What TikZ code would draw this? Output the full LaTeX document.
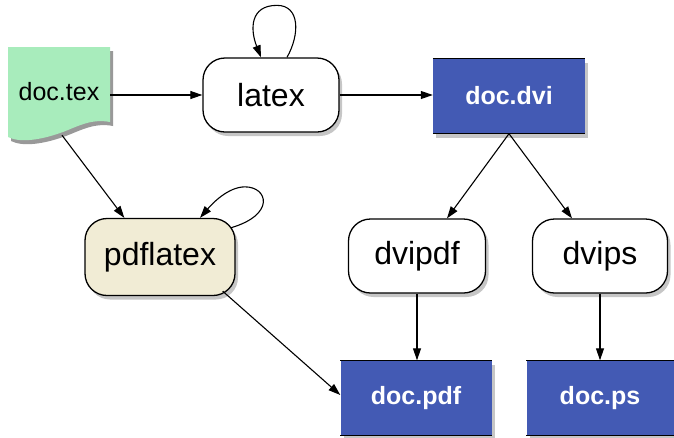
\documentclass[tikz,border=0pt]{standalone}
\usepackage{fontspec}
\setmainfont{Liberation Sans}
\usetikzlibrary{arrows.meta,shadows,calc}
\definecolor{texgreen}{RGB}{168,236,188}
\definecolor{fileblue}{RGB}{67,90,180}
\definecolor{pdfbeige}{RGB}{241,236,213}
\begin{document}
\begin{tikzpicture}[x=1pt,y=-1pt,
  shadowed/.style={drop shadow={opacity=0.45,shadow xshift=3pt,shadow yshift=-4pt}},
  prog/.style={draw=black, line width=1.3pt, rounded corners=22pt, fill=white,
    minimum width=136pt, minimum height=74pt, inner sep=4pt,
    font=\fontsize{32}{38}\selectfont, shadowed},
  file/.style={fill=fileblue, text=white, minimum width=151pt, minimum height=75pt,
    font=\fontsize{25}{30}\selectfont\bfseries, shadowed},
  arr/.style={-{Triangle[length=12pt,width=8pt]}, line width=1.1pt}]
\useasboundingbox (0,0) rectangle (674,437);

% doc.tex document shape
\fill[black,opacity=0.4,shift={(3,4)}] (8,47) -- (110,47) -- (110,122)
  .. controls (90,118) and (75,128) .. (60,133)
  .. controls (40,140) and (20,143) .. (8,137) -- cycle;
\fill[texgreen] (8,47) -- (110,47) -- (110,122)
  .. controls (90,118) and (75,128) .. (60,133)
  .. controls (40,140) and (20,143) .. (8,137) -- cycle;
\node[minimum width=102pt, minimum height=90pt, inner sep=0pt,
  font=\fontsize{25}{30}\selectfont] (doctex) at (59,92) {doc.tex};

\node[prog] (latex) at (271,95) {latex};
\node[prog, fill=pdfbeige, minimum width=150pt, minimum height=77pt] (pdflatex) at (160,257) {pdflatex};
\node[prog, minimum width=137pt] (dvipdf) at (417,256) {dvipdf};
\node[prog, minimum width=135pt] (dvips) at (600,256) {dvips};

\node[file, minimum width=152pt] (docdvi) at (509,96) {doc.dvi};
\node[file] (docpdf) at (416,398) {doc.pdf};
\node[file, minimum width=147pt] (docps) at (600,398) {doc.ps};
\foreach \n in {docdvi,docpdf,docps}{
  \draw[line width=1.3pt] (\n.north west) -- (\n.north east)
    (\n.south west) -- (\n.south east);
}

% connectors
\draw[arr] (doctex.east |- latex.west) -- (latex.west);
\draw[arr] (latex.east) -- (latex.east -| docdvi.west);
\draw[arr] ([xshift=3pt,yshift=2pt]doctex.south) -- ([xshift=40pt]pdflatex.north west);
\draw[arr] (docdvi.south) -- ([xshift=30pt]dvipdf.north);
\draw[arr] (docdvi.south) -- ([xshift=-28pt]dvips.north);
\draw[arr] (dvipdf.south) -- (dvipdf.south |- docpdf.north);
\draw[arr] (dvips.south) -- (dvips.south |- docps.north);
\draw[arr] ([xshift=-13pt,yshift=5pt]pdflatex.south east) -- ([yshift=3pt]docpdf.west);

% self loops
\draw[arr] ([xshift=16pt]latex.north)
  .. controls +(13,-23) and +(23,0) .. ([xshift=6pt,yshift=52pt]latex.north)
  .. controls +(-27,0) and +(-11,-28) .. ([xshift=-10pt]latex.north);
\draw[arr] ([xshift=-5pt,yshift=-10pt]pdflatex.north east)
  .. controls +(45,-13) and +(23,0) .. ([xshift=85pt,yshift=31pt]pdflatex.north)
  .. controls +(-17,0) and +(12,-14) .. ([xshift=40pt]pdflatex.north);
\end{tikzpicture}
\end{document}
